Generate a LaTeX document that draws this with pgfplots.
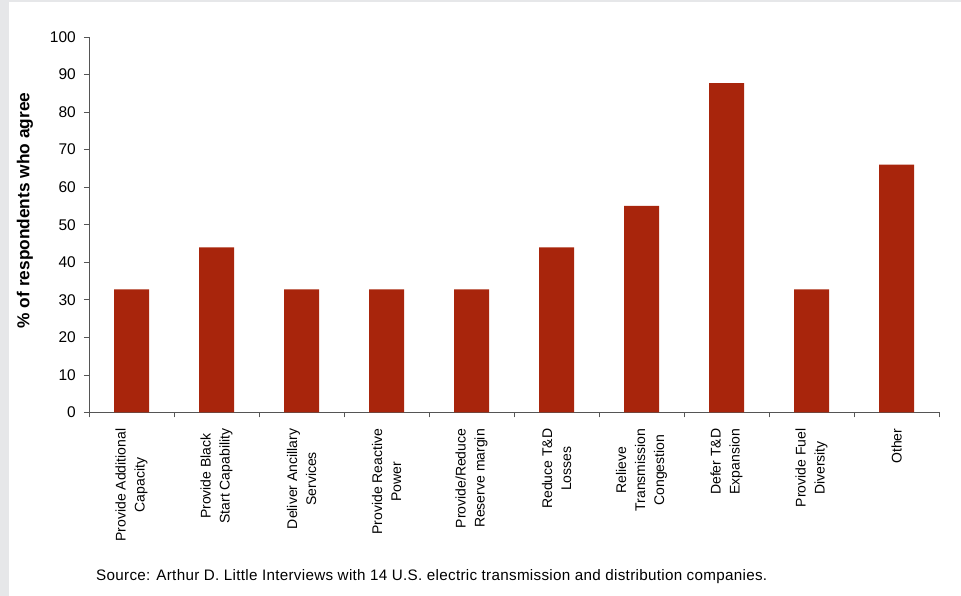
\documentclass[border=0pt]{standalone}
\usepackage{pgfplots}
\pgfplotsset{compat=1.18}
\usepackage{fontspec}
\setmainfont{Liberation Sans}
\newfontfamily\srcfont[LetterSpace=2]{Liberation Sans}
\definecolor{barred}{RGB}{168,37,12}
\definecolor{framegray}{RGB}{230,231,233}
\definecolor{axgray}{RGB}{85,85,85}
\begin{document}
\begin{tikzpicture}
\fill[framegray] (-89pt,-183.5pt) rectangle (872pt,412.5pt);
\fill[white] (-80pt,-183.5pt) rectangle (872pt,410.5pt);
\begin{axis}[
  at={(0pt,0pt)}, anchor=south west,
  scale only axis, width=850pt, height=375.5pt,
  xmin=-0.5, xmax=9.5, ymin=0, ymax=100,
  axis x line*=bottom, axis y line*=left,
  axis line style={axgray, line width=0.8pt},
  tick align=outside, major tick length=5pt,
  tick style={axgray, line width=0.8pt},
  ytick={0,10,...,100},
  xtick={-0.5,0.5,...,9.5},
  x tick label as interval,
  xticklabels={{Provide Additional\\Capacity},{Provide Black\\Start Capability},{Deliver Ancillary\\Services},{Provide Reactive\\Power},{Provide/Reduce\\Reserve margin},{Reduce T\&D\\Losses},{Relieve\\Transmission\\Congestion},{Defer T\&D\\Expansion},{Provide Fuel\\Diversity},{Other}},
  xticklabel style={rotate=90, anchor=east, align=center, inner sep=0pt, font=\fontsize{14}{19}\selectfont},
  xticklabel shift=11pt,
  yticklabel style={inner sep=0pt, font=\fontsize{15.5}{18}\selectfont},
  yticklabel shift=8pt,
  /pgf/number format/assume math mode=true,
  ylabel={\% of respondents who agree},
  ylabel style={at={(axis description cs:-0.0753,0.538)}, anchor=center, font=\bfseries\fontsize{17.3}{20}\selectfont},
  ybar, bar width=35pt,
]
\addplot[fill=barred, draw=none] coordinates {(0,32.8) (1,44) (2,32.8) (3,32.8) (4,32.8) (5,44) (6,55) (7,87.7) (8,32.8) (9,66)};
\end{axis}
\node[anchor=base west, inner sep=0pt, font=\srcfont\fontsize{15.2}{18}\selectfont] at (7pt,-168pt) {Source: Arthur D. Little Interviews with 14 U.S. electric transmission and distribution companies.};
\end{tikzpicture}
\end{document}
